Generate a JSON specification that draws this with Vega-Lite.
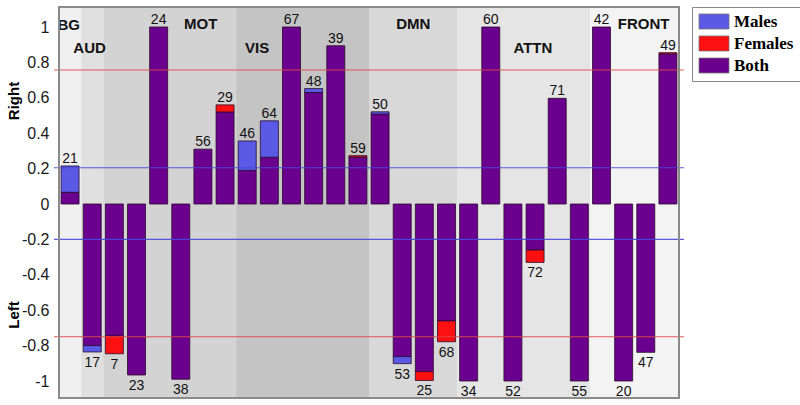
{
  "$schema": "https://vega.github.io/schema/vega-lite/v6.json",
  "width": 630,
  "height": 391,
  "autosize": {"type": "none"},
  "padding": {"left": 54, "top": 7, "right": 116, "bottom": 7},
  "background": "white",
  "config": {"view": {"stroke": null}, "font": "Liberation Sans"},
  "datasets": {
    "bars": [
      {"slot": 0, "component": "21", "part": "Both", "value": 0.066},
      {"slot": 0, "component": "21", "part": "Males", "value": 0.149},
      {"slot": 1, "component": "17", "part": "Both", "value": -0.8},
      {"slot": 1, "component": "17", "part": "Males", "value": -0.036},
      {"slot": 2, "component": "7", "part": "Both", "value": -0.746},
      {"slot": 2, "component": "7", "part": "Females", "value": -0.1},
      {"slot": 3, "component": "23", "part": "Both", "value": -0.966},
      {"slot": 4, "component": "24", "part": "Both", "value": 1.0},
      {"slot": 5, "component": "38", "part": "Both", "value": -0.99},
      {"slot": 6, "component": "56", "part": "Both", "value": 0.31},
      {"slot": 7, "component": "29", "part": "Both", "value": 0.52},
      {"slot": 7, "component": "29", "part": "Females", "value": 0.04},
      {"slot": 8, "component": "46", "part": "Both", "value": 0.19},
      {"slot": 8, "component": "46", "part": "Males", "value": 0.166},
      {"slot": 9, "component": "64", "part": "Both", "value": 0.264},
      {"slot": 9, "component": "64", "part": "Males", "value": 0.206},
      {"slot": 10, "component": "67", "part": "Both", "value": 1.0},
      {"slot": 11, "component": "48", "part": "Both", "value": 0.63},
      {"slot": 11, "component": "48", "part": "Males", "value": 0.022},
      {"slot": 12, "component": "39", "part": "Both", "value": 0.894},
      {"slot": 13, "component": "59", "part": "Both", "value": 0.265},
      {"slot": 13, "component": "59", "part": "Females", "value": 0.008},
      {"slot": 14, "component": "50", "part": "Both", "value": 0.508},
      {"slot": 14, "component": "50", "part": "Males", "value": 0.013},
      {"slot": 15, "component": "53", "part": "Both", "value": -0.862},
      {"slot": 15, "component": "53", "part": "Males", "value": -0.04},
      {"slot": 16, "component": "25", "part": "Both", "value": -0.947},
      {"slot": 16, "component": "25", "part": "Females", "value": -0.05},
      {"slot": 17, "component": "68", "part": "Both", "value": -0.661},
      {"slot": 17, "component": "68", "part": "Females", "value": -0.117},
      {"slot": 18, "component": "34", "part": "Both", "value": -1.0},
      {"slot": 19, "component": "60", "part": "Both", "value": 1.0},
      {"slot": 20, "component": "52", "part": "Both", "value": -1.0},
      {"slot": 21, "component": "72", "part": "Both", "value": -0.26},
      {"slot": 21, "component": "72", "part": "Females", "value": -0.07},
      {"slot": 22, "component": "71", "part": "Both", "value": 0.597},
      {"slot": 23, "component": "55", "part": "Both", "value": -1.0},
      {"slot": 24, "component": "42", "part": "Both", "value": 1.0},
      {"slot": 25, "component": "20", "part": "Both", "value": -1.0},
      {"slot": 26, "component": "47", "part": "Both", "value": -0.838},
      {"slot": 27, "component": "49", "part": "Both", "value": 0.848},
      {"slot": 27, "component": "49", "part": "Females", "value": 0.007}
    ],
    "regions": [
      {"region": "BG", "from": -0.5, "to": 0.5, "lx": -0.06, "ly": 1.012},
      {"region": "AUD", "from": 0.5, "to": 1.5, "lx": 0.88, "ly": 0.884},
      {"region": "MOT", "from": 1.5, "to": 7.5, "lx": 5.9, "ly": 1.015},
      {"region": "VIS", "from": 7.5, "to": 13.5, "lx": 8.45, "ly": 0.884},
      {"region": "DMN", "from": 13.5, "to": 17.5, "lx": 15.5, "ly": 1.015},
      {"region": "ATTN", "from": 17.5, "to": 23.5, "lx": 20.9, "ly": 0.884},
      {"region": "FRONT", "from": 23.5, "to": 27.5, "lx": 25.9, "ly": 1.015}
    ],
    "refs": [
      {"level": 0.757},
      {"level": -0.75},
      {"level": 0.205},
      {"level": -0.2}
    ]
  },
  "resolve": {"axis": {"y": "independent"}},
  "layer": [
    {
      "data": {"name": "regions"},
      "mark": {"type": "rect"},
      "encoding": {
        "x": {"field": "from", "type": "quantitative", "scale": {"domain": [-0.5, 27.5], "nice": false, "zero": false}, "axis": null},
        "x2": {"field": "to"},
        "y": {"datum": 1.113, "type": "quantitative", "scale": {"domain": [-1.096, 1.113], "nice": false, "zero": false}, "axis": null},
        "y2": {"datum": -1.096},
        "fill": {
          "field": "region", "type": "nominal",
          "scale": {"domain": ["BG", "AUD", "MOT", "VIS", "DMN", "ATTN", "FRONT"], "range": ["#f0f0f0", "#e0e0e0", "#d3d3d3", "#c4c4c4", "#d8d8d8", "#e5e5e5", "#f3f3f3"]},
          "legend": null
        }
      }
    },
    {
      "data": {"name": "bars"},
      "mark": {"type": "bar", "orient": "vertical", "size": 18, "stroke": "#2a0a2a", "strokeWidth": 0.8},
      "encoding": {
        "x": {"field": "slot", "type": "quantitative", "axis": null},
        "y": {
          "field": "value", "type": "quantitative", "stack": "zero",
          "axis": {
            "orient": "left",
            "values": [-1, -0.8, -0.6, -0.4, -0.2, 0, 0.2, 0.4, 0.6, 0.8, 1],
            "ticks": false, "domain": false, "grid": false,
            "labelFont": "Liberation Sans", "labelFontSize": 16, "labelColor": "#1a1a1a", "labelPadding": 5,
            "labelExpr": "replace(format(datum.value, '~g'), '\u2212', '-')",
            "title": "Right", "titleFont": "Liberation Sans", "titleFontSize": 15, "titleFontWeight": "bold", "titleColor": "#000",
            "titleX": -41, "titleY": 93.5, "titleAngle": -90, "titleAlign": "center", "titleBaseline": "middle"
          }
        },
        "color": {
          "field": "part", "type": "nominal",
          "scale": {"domain": ["Males", "Females", "Both"], "range": ["#5a5ae6", "#ff1010", "#6b008f"]},
          "legend": {
            "orient": "none", "legendX": 638, "legendY": 0, "title": null,
            "symbolType": "M-1,-1H3V1H-1Z", "symbolSize": 225, "symbolStrokeColor": "#777", "symbolStrokeWidth": 0.8, "symbolOpacity": 1,
            "labelFont": "Liberation Serif", "labelFontWeight": "bold", "labelFontSize": 17, "labelColor": "#000", "labelOffset": 19,
            "strokeColor": "#888", "fillColor": "white", "padding": 6, "rowPadding": 3
          }
        },
        "order": {"field": "part", "sort": "ascending"}
      }
    },
    {
      "data": {"name": "refs"},
      "mark": {"type": "rule", "strokeWidth": 1.1, "opacity": 0.9},
      "encoding": {
        "y": {
          "field": "level", "type": "quantitative",
          "axis": {
            "orient": "left", "labels": false, "ticks": false, "domain": false, "grid": false,
            "title": "Left", "titleFont": "Liberation Sans", "titleFontSize": 15, "titleFontWeight": "bold", "titleColor": "#000",
            "titleX": -41, "titleY": 307.5, "titleAngle": -90, "titleAlign": "center", "titleBaseline": "middle"
          }
        },
        "stroke": {"condition": {"test": "abs(datum.level) > 0.5", "value": "#e04848"}, "value": "#4848e0"}
      }
    },
    {
      "data": {"name": "bars"},
      "transform": [
        {"aggregate": [{"op": "sum", "field": "value", "as": "total"}], "groupby": ["slot", "component"]},
        {"filter": "datum.total > 0"}
      ],
      "mark": {"type": "text", "fontSize": 14, "baseline": "alphabetic", "dy": -3, "color": "#111"},
      "encoding": {
        "x": {"field": "slot", "type": "quantitative", "axis": null},
        "y": {"field": "total", "type": "quantitative", "axis": null},
        "text": {"field": "component"}
      }
    },
    {
      "data": {"name": "bars"},
      "transform": [
        {"aggregate": [{"op": "sum", "field": "value", "as": "total"}], "groupby": ["slot", "component"]},
        {"filter": "datum.total < 0"}
      ],
      "mark": {"type": "text", "fontSize": 14, "baseline": "alphabetic", "dy": 15, "color": "#111"},
      "encoding": {
        "x": {"field": "slot", "type": "quantitative", "axis": null},
        "y": {"field": "total", "type": "quantitative", "axis": null},
        "text": {"field": "component"}
      }
    },
    {
      "data": {"name": "regions"},
      "mark": {"type": "text", "fontSize": 15, "fontWeight": "bold", "baseline": "middle", "align": "center", "color": "#111"},
      "encoding": {
        "x": {"field": "lx", "type": "quantitative", "axis": null},
        "y": {"field": "ly", "type": "quantitative", "axis": null},
        "text": {"field": "region"}
      }
    },
    {
      "data": {"values": [{}]},
      "mark": {"type": "rect", "fill": null, "stroke": "#8a8a8a", "strokeWidth": 2},
      "encoding": {
        "x": {"datum": -0.5, "type": "quantitative", "axis": null},
        "x2": {"datum": 27.5},
        "y": {"datum": 1.113, "type": "quantitative", "axis": null},
        "y2": {"datum": -1.096}
      }
    }
  ]
}
